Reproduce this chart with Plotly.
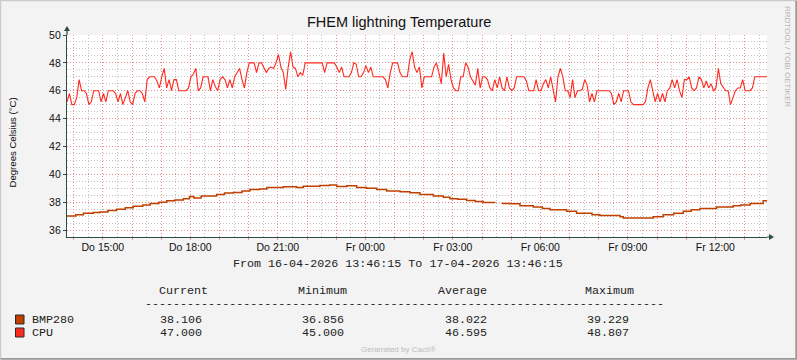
import plotly.graph_objects as go
import pandas as pd

# ---------------- data ----------------
START = "2026-04-16 13:46:15"
END = "2026-04-17 13:46:15"
SAMPLE_MINUTES = 5

cpu_values = [
    45.2, 45.8, 45.0, 45.0, 45.5, 46.8, 46.0, 46.0, 45.8, 45.0,
    45.2, 46.0, 46.0, 46.0, 45.2, 45.8, 45.2, 46.0, 46.0, 46.0,
    45.8, 45.2, 45.8, 45.0, 45.5, 46.0, 45.2, 45.0, 45.8, 46.0,
    46.0, 45.8, 45.2, 46.8, 47.0, 47.0, 47.0, 46.7, 46.2, 47.0,
    47.6, 46.2, 46.8, 46.0, 46.8, 46.8, 46.0, 46.0, 46.0, 46.0,
    46.2, 47.0, 47.2, 47.6, 46.0, 46.2, 47.0, 47.0,
    47.0, 46.0, 46.8, 46.3, 46.0, 46.8, 47.0, 46.8, 46.2, 46.8,
    46.2, 47.0, 47.3, 47.6, 46.8, 46.2, 47.3, 48.0, 48.0, 48.0,
    47.3, 48.0, 48.0, 47.6, 47.3, 47.6, 47.7, 47.6, 48.0, 48.6,
    47.7, 47.3, 46.1, 47.7, 48.8, 47.7, 47.6, 47.0, 47.3, 47.1,
    48.0, 48.0, 48.0, 48.0, 48.0, 48.0, 48.0, 48.0, 47.3, 48.0,
    48.0, 48.0, 48.0, 47.7, 47.3, 47.7, 47.0, 47.0,
    47.0, 47.3, 48.0, 47.9, 47.0, 47.0, 47.3, 47.8, 47.3, 47.7,
    47.0, 47.0, 47.0, 47.0, 47.0, 46.8, 46.2, 47.3, 48.0, 48.0,
    48.0, 47.3, 47.0, 47.0, 47.0, 48.2, 48.8, 47.7, 47.3, 47.7,
    46.2, 47.0, 47.0, 47.0, 47.0, 47.7, 48.0, 47.3, 46.5, 48.7,
    47.0, 47.9, 46.8, 46.2, 46.0, 46.0, 47.0, 47.0, 48.0, 47.7,
    47.0, 46.7, 46.4, 47.6, 46.2, 47.0, 47.0,
    46.8, 46.2, 46.0, 46.8, 46.2, 47.0, 46.2, 46.0, 47.0, 46.2,
    46.0, 46.2, 47.0, 47.0, 47.0, 47.0, 46.7, 46.0, 46.0, 46.0,
    46.8, 46.0, 46.0, 46.5, 46.8, 46.2, 47.0, 46.2, 45.2, 47.0,
    47.6, 47.0, 46.0, 46.0, 45.5, 46.8, 45.5, 46.0, 46.0, 46.1,
    46.8, 46.4, 45.2, 45.8, 45.2, 46.0, 46.0, 46.0, 46.0, 46.0,
    46.0, 45.8, 45.0, 45.2, 45.8, 45.2, 46.0, 46.0,
    46.0, 45.2, 45.0, 45.0, 45.0, 45.0, 45.0, 45.2, 46.2, 46.8,
    46.0, 45.2, 45.8, 45.2, 45.8, 45.2, 46.0, 46.2, 46.8, 46.2,
    46.8, 46.0, 45.5, 46.8, 46.8, 47.0, 46.2, 46.0, 46.2, 47.0,
    46.8, 46.2, 46.7, 46.2, 46.5, 46.0, 46.2, 47.6, 46.5, 46.2,
    46.0, 46.0, 45.0, 45.5, 46.0, 46.2, 46.2, 46.8, 46.0, 46.0,
    46.0, 46.2, 47.0, 47.0, 47.0, 47.0, 47.0, 47.0,
]

# BMP280: (hours after start, value); None marks the gap in the data
bmp_hours = [
    0.0, 0.3, 0.56, 0.9, 1.13, 1.4, 1.7, 2.0, 2.27, 2.6, 2.85, 3.15, 3.42,
    3.7, 3.99, 4.2, 4.35, 4.6, 5.13, 5.4, 5.7, 6.0, 6.27, 6.6, 6.85, 7.42,
    7.87, 8.1, 8.67, 9.0, 9.25, 9.59, 9.93, 10.27, 10.62, 10.96, 11.42,
    11.76, 12.1, 12.56, 12.9, 13.13, 13.4, 13.7, 14.0, 14.27, 14.67, 14.75,
    14.9, 15.19, 15.53, 15.99, 16.3, 16.56, 17.13, 17.47, 18.0, 18.27,
    18.96, 19.07, 19.99, 20.1, 20.44, 20.8, 21.13, 21.4, 21.7, 22.27,
    22.84, 23.1, 23.42, 23.82, 23.87, 24.0,
]
bmp_values = [
    37.0, 37.1, 37.2, 37.25, 37.3, 37.4, 37.5, 37.6, 37.7, 37.8, 37.9, 38.0, 38.1,
    38.15, 38.25, 38.4, 38.3, 38.45, 38.55, 38.65, 38.7, 38.8, 38.9, 38.95, 39.05, 39.1,
    39.05, 39.15, 39.2, 39.23, 39.13, 39.18, 39.05, 39.0, 38.9, 38.8, 38.75,
    38.67, 38.55, 38.45, 38.35, 38.25, 38.2, 38.12, 38.05, 37.98, 37.95, None,
    37.9, 37.88, 37.75, 37.65, 37.55, 37.45, 37.35, 37.2, 37.1, 37.05,
    36.96, 36.87, 36.87, 36.95, 37.1, 37.2, 37.35, 37.45, 37.55, 37.65,
    37.75, 37.8, 37.9, 37.9, 38.1, 38.106,
]

tick_times = ["2026-04-16 15:00", "2026-04-16 18:00", "2026-04-16 21:00",
              "2026-04-17 00:00", "2026-04-17 03:00", "2026-04-17 06:00",
              "2026-04-17 09:00", "2026-04-17 12:00"]
tick_labels = ["Do 15:00", "Do 18:00", "Do 21:00", "Fr 00:00",
               "Fr 03:00", "Fr 06:00", "Fr 09:00", "Fr 12:00"]
y_ticks = [36, 38, 40, 42, 44, 46, 48, 50]
y_minor_ticks = [36.5, 37, 37.5, 38.5, 39, 39.5, 40.5, 41, 41.5, 42.5, 43, 43.5,
                 44.5, 45, 45.5, 46.5, 47, 47.5, 48.5, 49, 49.5]

title_text = "FHEM lightning Temperature"
y_title = "Degrees Celsius (°C)"
period_text = "From 16-04-2026 13:46:15 To 17-04-2026 13:46:15"
legend_headers = ["Current", "Minimum", "Average", "Maximum"]
legend_names = ["BMP280", "CPU"]
legend_rows = [
    ["38.106", "36.856", "38.022", "39.229"],
    ["47.000", "45.000", "46.595", "48.807"],
]
series_colors = ["#C04000", "#FF2A1F"]

# ---------------- layout geometry ----------------
W_FIG, H_FIG = 797, 360
L, T = 67, 35
PW, PH = 700, 202
R = W_FIG - L - PW
B = H_FIG - T - PH


def px(x):
    return (x - L) / PW


def py(y):
    return (T + PH - y) / PH


start = pd.Timestamp(START)
end = pd.Timestamp(END)
cpu_times = [start + pd.Timedelta(minutes=SAMPLE_MINUTES * i) for i in range(len(cpu_values))]
bmp_times = [start + pd.Timedelta(hours=h) for h in bmp_hours]

fig = go.Figure()
fig.add_trace(go.Scatter(x=bmp_times, y=bmp_values, mode="lines", line_shape="hv",
                         line=dict(color=series_colors[0], width=1.5),
                         connectgaps=False, showlegend=False, hoverinfo="skip"))
fig.add_trace(go.Scatter(x=cpu_times, y=cpu_values, mode="lines",
                         line=dict(color=series_colors[1], width=1.1),
                         showlegend=False, hoverinfo="skip"))

# hourly major grid (labels every 3 hours), half-hour minor grid
hour_vals = pd.date_range(start.ceil("h"), end, freq="h")
half_vals = pd.date_range(start.ceil("h") - pd.Timedelta(minutes=30), end, freq="h")
half_vals = [h for h in half_vals if h >= start]
label_map = {pd.Timestamp(t): lab for t, lab in zip(tick_times, tick_labels)}
hour_text = [label_map.get(h, "") for h in hour_vals]

MAJOR = "#EC8C8C"
MINOR = "#C2C2C2"
DOT_MAJOR = "1px,2px"
DOT_MINOR = "1px,2px"
AXIS = "#2C4D43"
TICKFONT = dict(family="Liberation Sans, Arial, sans-serif", size=10.5, color="#111")

fig.update_xaxes(
    type="date", range=[start, end], tickmode="array",
    tickvals=list(hour_vals), ticktext=hour_text,
    showgrid=True, gridcolor=MAJOR, griddash=DOT_MAJOR, gridwidth=1,
    minor=dict(tickmode="array", tickvals=list(half_vals), showgrid=True,
               gridcolor=MINOR, griddash=DOT_MINOR, gridwidth=1),
    showline=True, linecolor=AXIS, linewidth=1.2,
    ticks="outside", ticklen=2, tickcolor=MAJOR, ticklabelstandoff=-2,
    tickfont=TICKFONT, zeroline=False, fixedrange=True,
)
fig.update_yaxes(
    range=[50 - PH / 13.93, 50], tickmode="array", tickvals=y_ticks,
    ticktext=[str(v) for v in y_ticks],
    showgrid=True, gridcolor=MAJOR, griddash=DOT_MAJOR, gridwidth=1,
    minor=dict(tickmode="array", tickvals=y_minor_ticks, showgrid=True,
               gridcolor=MINOR, griddash=DOT_MINOR, gridwidth=1),
    showline=True, linecolor=AXIS, linewidth=1.2,
    ticks="outside", ticklen=3, tickcolor=AXIS,
    tickfont=TICKFONT, zeroline=False, fixedrange=True,
)

shapes = []
# axis extensions and arrow heads
shapes.append(dict(type="line", xref="paper", yref="paper", x0=px(L), x1=px(L),
                   y0=py(T), y1=py(T - 4), line=dict(color=AXIS, width=1.2)))
shapes.append(dict(type="path", xref="paper", yref="paper",
                   path=f"M {px(L-3)},{py(T-4)} L {px(L+3)},{py(T-4)} L {px(L)},{py(T-9)} Z",
                   fillcolor=AXIS, line=dict(width=0)))
shapes.append(dict(type="line", xref="paper", yref="paper", x0=px(L + PW), x1=px(L + PW + 2),
                   y0=py(T + PH), y1=py(T + PH), line=dict(color=AXIS, width=1.2)))
shapes.append(dict(type="path", xref="paper", yref="paper",
                   path=f"M {px(L+PW+2)},{py(T+PH-3)} L {px(L+PW+2)},{py(T+PH+3)} L {px(L+PW+7)},{py(T+PH)} Z",
                   fillcolor=AXIS, line=dict(width=0)))
# image frame
shapes.append(dict(type="path", xref="paper", yref="paper",
                   path=f"M {px(0.5)},{py(359)} L {px(0.5)},{py(0.5)} L {px(796)},{py(0.5)}",
                   line=dict(color="#CBCBCB", width=1.5)))
shapes.append(dict(type="path", xref="paper", yref="paper",
                   path=f"M {px(796.2)},{py(0.5)} L {px(796.2)},{py(358.8)} L {px(0.5)},{py(358.8)}",
                   line=dict(color="#999999", width=1.8)))

annotations = []
annotations.append(dict(text=title_text, xref="paper", yref="paper", x=px(398.5), y=py(22),
                        xanchor="center", yanchor="middle", showarrow=False,
                        font=dict(family="Liberation Sans, Arial, sans-serif", size=14.5, color="#111")))
annotations.append(dict(text=y_title, xref="paper", yref="paper", x=px(12), y=py(142.5),
                        xanchor="center", yanchor="middle", showarrow=False, textangle=-90,
                        font=dict(family="Liberation Sans, Arial, sans-serif", size=9.6, color="#111")))
annotations.append(dict(text="RRDTOOL / TOBI OETIKER", xref="paper", yref="paper",
                        x=px(788), y=py(56), xanchor="center", yanchor="middle",
                        showarrow=False, textangle=90,
                        font=dict(family="Liberation Sans, Arial, sans-serif", size=8, color="#B5B5B5")))
MONO = dict(family="Liberation Mono, Courier New, monospace", size=11.7, color="#222")
annotations.append(dict(text=period_text, xref="paper", yref="paper", x=px(398), y=py(263.5),
                        xanchor="center", yanchor="middle", showarrow=False, font=MONO))
header_x = [156.7, 296, 436, 582.7]
value_x = [158.3, 300, 442.7, 585]
for hx, h in zip(header_x, legend_headers):
    annotations.append(dict(text=h, xref="paper", yref="paper", x=px(hx), y=py(290.5),
                            xanchor="left", yanchor="middle", showarrow=False, font=MONO))
annotations.append(dict(text="-" * 74, xref="paper", yref="paper", x=px(143), y=py(303.5),
                        xanchor="left", yanchor="middle", showarrow=False, font=MONO,
                        height=6, valign="middle"))
row_y = [319.5, 332.5]
for ry, name, vals, col in zip(row_y, legend_names, legend_rows, series_colors):
    annotations.append(dict(text=name, xref="paper", yref="paper", x=px(29.5), y=py(ry),
                            xanchor="left", yanchor="middle", showarrow=False, font=MONO))
    for vx, v in zip(value_x, vals):
        annotations.append(dict(text=v, xref="paper", yref="paper", x=px(vx), y=py(ry),
                                xanchor="left", yanchor="middle", showarrow=False, font=MONO))
    shapes.append(dict(type="rect", xref="paper", yref="paper",
                       x0=px(15.5), x1=px(24), y0=py(ry - 4.5), y1=py(ry + 4.5),
                       fillcolor=col, line=dict(color="#2a2a2a", width=1)))
annotations.append(dict(text="Generated by Cacti®", xref="paper", yref="paper", x=px(398), y=py(349.5),
                        xanchor="center", yanchor="middle", showarrow=False,
                        font=dict(family="Liberation Sans, Arial, sans-serif", size=8, color="#BBBBBB")))

fig.update_layout(
    width=W_FIG, height=H_FIG,
    margin=dict(l=L, r=R, t=T, b=B, pad=0),
    paper_bgcolor="#F3F3F3", plot_bgcolor="#FFFFFF",
    shapes=shapes, annotations=annotations, showlegend=False,
)

fig.write_html("out.html", config={"displayModeBar": False},
               post_script="document.body.style.margin='0';document.body.style.overflow='hidden';")
